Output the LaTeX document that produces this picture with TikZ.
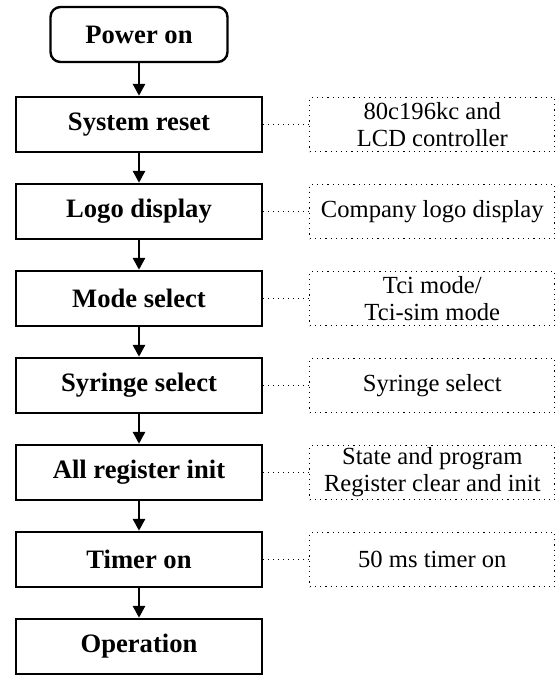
\documentclass[tikz,border=0pt]{standalone}
\usepackage{fontspec}
\setmainfont{Liberation Serif}
\usepackage{tikz}
\usetikzlibrary{arrows.meta,positioning}

\begin{document}
\begin{tikzpicture}[node distance=14.8pt and 23pt,
    every node/.style={font=\fontsize{12.3}{13.5}\selectfont},
    proc/.style={draw,line width=1.2pt,minimum width=123pt,minimum height=27.5pt,
                 inner sep=0pt,align=center,font=\fontsize{13.3}{15}\selectfont\bfseries},
    memo/.style={draw,dotted,line width=0.6pt,minimum width=122.5pt,minimum height=27pt,
                 inner sep=0pt,align=center},
    flow/.style={-{Triangle[length=6pt,width=6pt]},line width=1.4pt},
    link/.style={dotted,line width=0.5pt}]
  \useasboundingbox (0,0) rectangle (279pt,-338.5pt);
  \node[proc,rounded corners=5pt,minimum width=88.5pt] (power) at (69.5pt,-17.25pt) {Power on};
  \node[proc,below=16.3pt of power] (reset) {System reset};
  \node[proc,below=of reset]  (logo)  {Logo display};
  \node[proc,below=of logo]   (mode)  {Mode select};
  \node[proc,below=of mode]   (syr)   {Syringe select};
  \node[proc,below=of syr]    (reg)   {All register init};
  \node[proc,below=of reg]    (timer) {Timer on};
  \node[proc,below=of timer]  (oper)  {Operation};
  \node[memo,right=of reset] (resetm) {80c196kc and\\LCD controller};
  \node[memo,right=of logo]  (logom)  {Company logo display};
  \node[memo,right=of mode]  (modem)  {Tci mode/\\Tci-sim mode};
  \node[memo,right=of syr]   (syrm)   {Syringe select};
  \node[memo,right=of reg]   (regm)   {State and program\\Register clear and init};
  \node[memo,right=of timer] (timerm) {50 ms timer on};
  \draw[flow] (power) -- (reset);
  \draw[flow] (reset) -- (logo);
  \draw[flow] (logo)  -- (mode);
  \draw[flow] (mode)  -- (syr);
  \draw[flow] (syr)   -- (reg);
  \draw[flow] (reg)   -- (timer);
  \draw[flow] (timer) -- (oper);
  \draw[link] (reset) -- (resetm);
  \draw[link] (logo)  -- (logom);
  \draw[link] (mode)  -- (modem);
  \draw[link] (syr)   -- (syrm);
  \draw[link] (reg)   -- (regm);
  \draw[link] (timer) -- (timerm);
\end{tikzpicture}
\end{document}
